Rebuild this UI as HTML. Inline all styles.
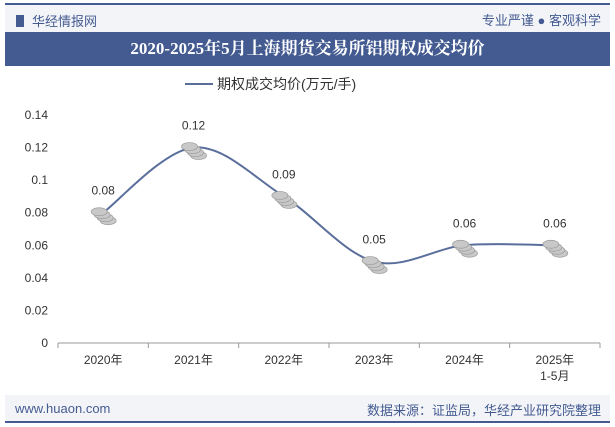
<!DOCTYPE html>
<html><head><meta charset="utf-8"><style>
body{margin:0;width:615px;height:427px;background:#fff;font-family:"Liberation Sans","Noto Sans CJK SC",sans-serif;position:relative;overflow:hidden}
.abs{position:absolute}
</style></head><body>
<div class="abs" style="left:5px;top:3px;width:605px;height:2px;background:#445b91"></div>
<div class="abs" style="left:5px;top:5px;width:605px;height:27px;background:#f3f4f8"></div>
<div class="abs" style="left:16px;top:11px;font-size:13px;color:#445b91"><span style="display:inline-block;width:8px;height:12px;background:#445b91;vertical-align:-1px;margin-right:8px"></span>华经情报网</div>
<div class="abs" style="right:14px;top:10px;font-size:13px;color:#445b91">专业严谨 ● 客观科学</div>
<div class="abs" style="left:5px;top:32px;width:605px;height:34px;background:#445b91;color:#fff;font-weight:bold;font-size:17px;line-height:34px;text-align:center;font-family:'Liberation Serif','Noto Serif CJK SC',serif">2020-2025年5月上海期货交易所铝期权成交均价</div>
<div class="abs" style="left:5px;top:395px;width:605px;height:27px;background:#f3f4f8"></div>
<div class="abs" style="left:5px;top:421px;width:605px;height:2px;background:#445b91"></div>
<div class="abs" style="left:15px;top:401px;font-size:13px;color:#445b91">www.huaon.com</div>
<div class="abs" style="right:14px;top:400px;font-size:13px;color:#445b91">数据来源：证监局，华经产业研究院整理</div>
<svg class="abs" style="left:0;top:0" width="615" height="427" id="chart">
<g id="legend">
<line x1="185" y1="84" x2="213" y2="84" stroke="#5a6e9c" stroke-width="2"/>
<text x="217" y="89" font-size="14" fill="#333">期权成交均价(万元/手)</text>
</g>
</svg>
<script>
const categories=["2020年","2021年","2022年","2023年","2024年","2025年"];
const values=[0.08,0.12,0.09,0.05,0.06,0.06];
const labels=["0.08","0.12","0.09","0.05","0.06","0.06"];
const yTicks=[0,0.02,0.04,0.06,0.08,0.1,0.12,0.14];
const yTickLabels=["0","0.02","0.04","0.06","0.08","0.1","0.12","0.14"];
const NS="http://www.w3.org/2000/svg";
const svg=document.getElementById('chart');
const X0=58,X1=600,Y0=343,Y1=115,YMAX=0.14;
const bw=(X1-X0)/categories.length;
const xc=i=>X0+bw*(i+0.5);
const y=v=>Y0-(v/YMAX)*(Y0-Y1);
function mk(t,a,p){const e=document.createElementNS(NS,t);for(const k in a)e.setAttribute(k,a[k]);(p||svg).appendChild(e);return e;}
let ax=mk('line',{x1:X0,y1:Y0,x2:X1,y2:Y0,stroke:'#999','stroke-width':1});


for(let i=0;i<=categories.length;i++){let t=mk('line',{x1:X0+bw*i,y1:Y0,x2:X0+bw*i,y2:Y0+5,stroke:'#999'});

}
categories.forEach((c,i)=>{let t=mk('text',{x:xc(i),y:364,'text-anchor':'middle','font-size':12,fill:'#333'});t.textContent=c;


if(i==categories.length-1){let t2=mk('text',{x:xc(i),y:380,'text-anchor':'middle','font-size':12,fill:'#333'});t2.textContent='1-5月';

}});
yTicks.forEach((v,i)=>{let t=mk('text',{x:48,y:y(v)+4,'text-anchor':'end','font-size':12,fill:'#333'});t.textContent=yTickLabels[i];

});
const pts=values.map((v,i)=>[xc(i),y(v)]);
let d=`M${pts[0][0]},${pts[0][1]}`;
for(let i=0;i<pts.length-1;i++){const p0=pts[Math.max(0,i-1)],p1=pts[i],p2=pts[i+1],p3=pts[Math.min(pts.length-1,i+2)];
const c1=[p1[0]+(p2[0]-p0[0])/6,p1[1]+(p2[1]-p0[1])/6],c2=[p2[0]-(p3[0]-p1[0])/6,p2[1]-(p3[1]-p1[1])/6];
d+=` C${c1[0]},${c1[1]} ${c2[0]},${c2[1]} ${p2[0]},${p2[1]}`;}
let ln=mk('path',{d:d,fill:'none',stroke:'#5a6e9c','stroke-width':2});


pts.forEach((p,i)=>{const g=mk('g',{});


[[6,6],[3,3],[0,0],[-3,-3]].forEach(o=>{mk('ellipse',{cx:p[0]+o[0]-1,cy:p[1]+o[1]+2,rx:8,ry:4,fill:'#c8c8c8',stroke:'#999','stroke-width':0.7},g);});
let t=mk('text',{x:p[0],y:p[1]-18,'text-anchor':'middle','font-size':12,fill:'#333'});t.textContent=labels[i];

});
</script>
</body></html>
